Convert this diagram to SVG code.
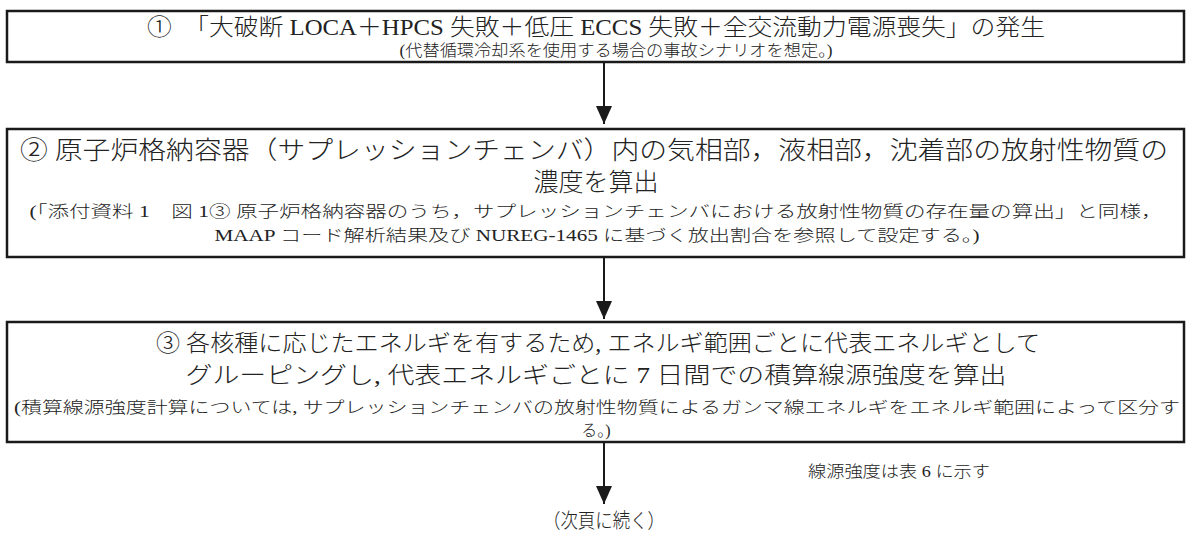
<svg xmlns="http://www.w3.org/2000/svg" width="1192" height="538" viewBox="0 0 1192 538">
<defs>
<style>
.box{fill:#fff;stroke:#1a1a1a;stroke-width:2.5}
.t{font-family:"Liberation Serif","Noto Sans CJK JP",serif;fill:#222;text-anchor:middle;font-weight:300}
.big{font-size:23px}
.mid{font-size:25px}
.sm{font-size:16px}
.conn{stroke:#1a1a1a;stroke-width:2;fill:none}
</style>
<marker id="ah" viewBox="0 0 18 16" refX="18" refY="8" markerWidth="18" markerHeight="16" markerUnits="userSpaceOnUse" orient="auto">
<path d="M0,0 L18,8 L0,16 Z" fill="#1a1a1a"/>
</marker>
</defs>
<rect width="1192" height="538" fill="#fff"/>
<g id="connectors">
<line class="conn" x1="604" y1="62" x2="604" y2="124" marker-end="url(#ah)"/>
<line class="conn" x1="604" y1="257" x2="604" y2="319" marker-end="url(#ah)"/>
<line class="conn" x1="604" y1="442" x2="604" y2="504" marker-end="url(#ah)"/>
</g>
<g id="node1">
<rect class="box" x="7" y="11" width="1177" height="51"/>
<text class="t big" x="596" y="35" textLength="898" lengthAdjust="spacingAndGlyphs">①　「大破断 LOCA＋HPCS 失敗＋低圧 ECCS 失敗＋全交流動力電源喪失」の発生</text>
<text class="t sm" x="616" y="56" textLength="433" lengthAdjust="spacingAndGlyphs">(代替循環冷却系を使用する場合の事故シナリオを想定。)</text>
</g>
<g id="node2">
<rect class="box" x="7" y="129" width="1177" height="128"/>
<text class="t mid" x="594" y="159" textLength="1148" lengthAdjust="spacingAndGlyphs">② 原子炉格納容器（サプレッションチェンバ）内の気相部，液相部，沈着部の放射性物質の</text>
<text class="t mid" x="596" y="191">濃度を算出</text>
<text class="t sm" x="596" y="217" textLength="1133" lengthAdjust="spacingAndGlyphs">(「添付資料 1　図 1③ 原子炉格納容器のうち，サプレッションチェンバにおける放射性物質の存在量の算出」と同様，</text>
<text class="t sm" x="597" y="241" textLength="765" lengthAdjust="spacingAndGlyphs">MAAP コード解析結果及び NUREG-1465 に基づく放出割合を参照して設定する。)</text>
</g>
<g id="node3">
<rect class="box" x="7" y="322" width="1177" height="120"/>
<text class="t big" x="598" y="351" textLength="884" lengthAdjust="spacingAndGlyphs">③ 各核種に応じたエネルギを有するため, エネルギ範囲ごとに代表エネルギとして</text>
<text class="t big" x="596" y="383" textLength="821" lengthAdjust="spacingAndGlyphs">グルーピングし, 代表エネルギごとに 7 日間での積算線源強度を算出</text>
<text class="t sm" x="597" y="413" textLength="1166" lengthAdjust="spacingAndGlyphs">(積算線源強度計算については, サプレッションチェンバの放射性物質によるガンマ線エネルギをエネルギ範囲によって区分す</text>
<text class="t sm" x="596" y="436">る。)</text>
</g>
<g id="note">
<text class="t sm" x="899" y="477" textLength="182" lengthAdjust="spacingAndGlyphs">線源強度は表 6 に示す</text>
</g>
<g id="cont">
<text class="t" style="font-size:20px" x="604" y="528" textLength="122" lengthAdjust="spacingAndGlyphs">（次頁に続く）</text>
</g>
</svg>
